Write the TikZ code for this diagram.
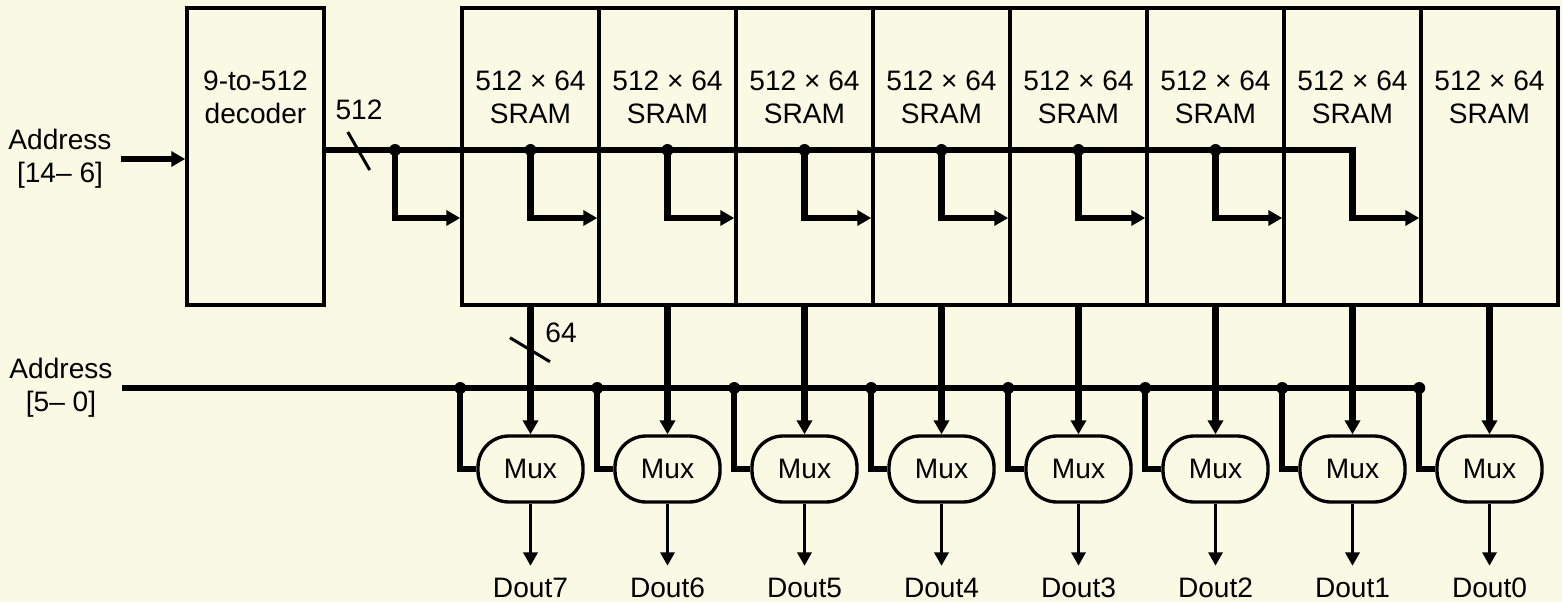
\documentclass[tikz,border=0pt]{standalone}
\usepackage{fontspec}
\setmainfont{Liberation Sans}
\usetikzlibrary{arrows.meta,positioning,calc}
\definecolor{bgC}{RGB}{250,250,228}

\tikzset{
  blk/.style={draw, line width=2pt, minimum width=2.74cm, minimum height=5.94cm, inner sep=0pt},
  muxbox/.style={draw, line width=1.9pt, rounded corners=0.62cm, minimum width=2.1cm, minimum height=1.32cm, inner sep=0pt, font=\fontsize{16}{19}\selectfont},
  lbl/.style={font=\fontsize{16}{18.8}\selectfont, align=center, inner sep=0pt},
  bus/.style={line width=3.6pt},
  busarr/.style={bus, -{Triangle[length=0.28cm,width=0.3cm]}},
  thinarr/.style={line width=2.1pt, -{Triangle[length=0.27cm,width=0.28cm]}},
  slash/.style={line width=1.7pt},
  dot/.style={circle, fill, inner sep=0pt, minimum size=0.24cm},
}

\begin{document}
\begin{tikzpicture}[x=0.02cm, y=-0.02cm]
  \fill[bgC] (0,0) rectangle (1562,602);
  \useasboundingbox (0,0) rectangle (1562,602);
  % decoder and address inputs
  \node[blk] (dec) at (255.5,156.5) {};
  \node[lbl] (dectxt) at (255.5,97) {9-to-512\\decoder};
  \node[lbl, outer sep=5.5pt] (addrhi) at (60,159) {Address\\{}[14– 6]};
  \node[lbl, outer sep=5.5pt] (addrlo) at (61,388) {Address\\{}[5– 0]};
  \draw[busarr] (addrhi.east) -- (addrhi.east -| dec.west);
  % SRAM banks, muxes, outputs
  \foreach \k in {0,...,7} {
    \pgfmathtruncatemacro\n{7-\k}
    \node[blk] (sram\n) at ({530.5+137*\k},156.5) {};
    \node[lbl] (stxt\n) at ({530.5+137*\k},97) {512 × 64\\SRAM};
    \node[muxbox] (mux\n) at ({530.5+137*\k},469) {Mux};
    \node[lbl, outer sep=7pt] (dout\n) at ({530.5+137*\k},588) {Dout\n};
    \draw[busarr] (sram\n.south) -- (mux\n.north);
    \draw[thinarr] (mux\n.south) -- (dout\n.north);
  }
  % row select bus
  \coordinate (tapA) at (395,150);
  \coordinate (rowA) at (395,218);
  \draw[busarr] (dec.east |- tapA) -- (sram1 |- tapA) -- (sram1 |- rowA) -- (sram0.west |- rowA);
  \draw[busarr] (tapA) |- (sram7.west |- rowA);
  \node[dot] (dA) at (tapA) {};
  \foreach \n/\m in {7/6,6/5,5/4,4/3,3/2,2/1} {
    \node[dot] (dA\n) at (sram\n |- tapA) {};
    \draw[busarr] (dA\n.center) |- (sram\m.west |- rowA);
  }
  \draw[slash] ($(dec.east |- tapA)+(22,-18)$) -- ++(22,38);
  \node[lbl] (w512) at (359,110) {512};
  % column select bus
  \draw[bus] (addrlo.east) -- (addrlo.east -| sram0.west);
  \foreach \n in {7,...,0} {
    \node[dot] (dB\n) at (sram\n.west |- addrlo.east) {};
    \draw[bus] (dB\n.center) |- (mux\n.west);
  }
  \draw[slash] ($(sram7.south)+(-20.5,31)$) -- ++(40,24);
  \node[lbl] (w64) at (561,333) {64};
\end{tikzpicture}
\end{document}
